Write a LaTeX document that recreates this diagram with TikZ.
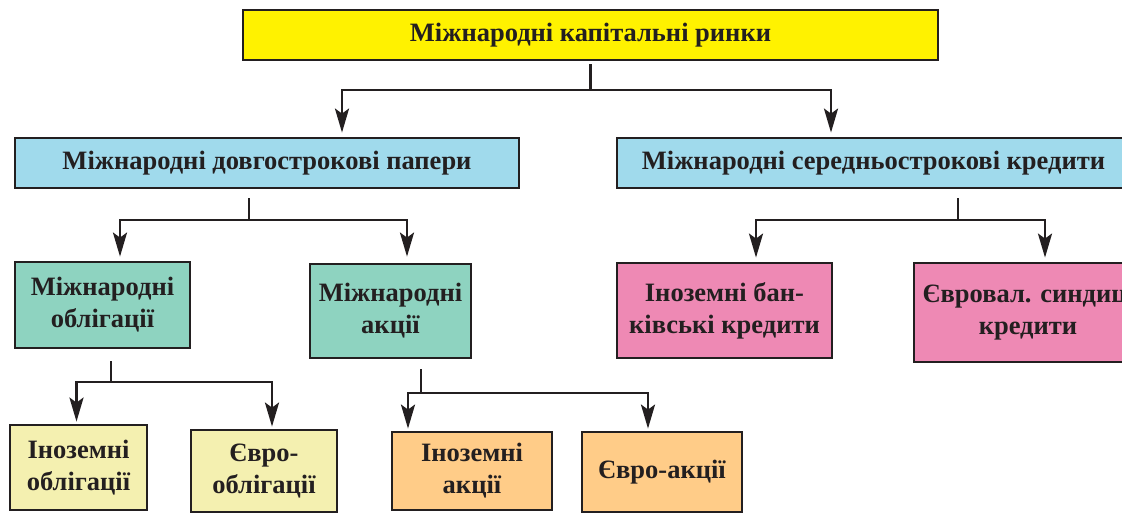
\documentclass[tikz,border=0pt]{standalone}
\usepackage{fontspec}
\setmainfont{Liberation Serif}
\usetikzlibrary{arrows.meta,positioning,calc}
\definecolor{mkInk}{RGB}{35,31,32}
\definecolor{mkYellow}{RGB}{255,242,0}
\definecolor{mkBlue}{RGB}{160,218,236}
\definecolor{mkTeal}{RGB}{142,211,192}
\definecolor{mkPink}{RGB}{238,137,180}
\definecolor{mkCream}{RGB}{244,240,176}
\definecolor{mkOrange}{RGB}{255,204,136}

\begin{document}
\begin{tikzpicture}[x=1pt,y=-1pt,
  box/.style={draw=mkInk, line width=2.8pt, text=mkInk, align=center, inner sep=0pt,
    font=\fontsize{26.5}{32}\selectfont\bfseries},
  link/.style={draw=mkInk, line width=2.8pt},
  arr/.style={link, -{Stealth[length=24pt,width=14pt,inset=5pt]}}]
\useasboundingbox (0,0) rectangle (1122,514);
\clip (0,0) rectangle (1122,514);

% boxes
\node[box, fill=mkYellow, minimum width=695pt, minimum height=50pt] (mkr) at (590.5,35) {Міжнародні капітальні ринки};
\node[box, fill=mkBlue, minimum width=504pt, minimum height=50pt] (dovg) at (267,163) {Міжнародні довгострокові папери};
\node[box, fill=mkBlue, minimum width=513pt, minimum height=50pt] (sered) at (873.5,163) {Міжнародні середньострокові кредити};
\node[box, fill=mkTeal, minimum width=175pt, minimum height=86pt] (obl) at (102.5,305) {Міжнародні\\облігації};
\node[box, fill=mkTeal, minimum width=161pt, minimum height=94pt] (akc) at (390.5,311) {Міжнародні\\акції};
\node[box, fill=mkPink, minimum width=215pt, minimum height=95pt] (bank) at (724.5,310.5) {Іноземні бан-\\ківські кредити};
\node[box, fill=mkPink, minimum width=228pt, minimum height=99pt] (synd) at (1028,312.5) {Євровал. синдиц.\\кредити};
\node[box, fill=mkCream, minimum width=137pt, minimum height=85pt] (inobl) at (78.5,467.5) {Іноземні\\облігації};
\node[box, fill=mkCream, minimum width=146pt, minimum height=82pt] (evobl) at (264,471) {Євро-\\облігації};
\node[box, fill=mkOrange, minimum width=160pt, minimum height=78pt] (inakc) at (472,471) {Іноземні\\акції};
\node[box, fill=mkOrange, minimum width=160pt, minimum height=80pt] (evakc) at (662,472) {Євро-акції};

% branch points
\coordinate (j1) at (590.5,90);
\coordinate (j2) at (249,220);
\coordinate (j3) at (958,220);
\coordinate (j4) at (111,382);
\coordinate (j5) at (421,393);

\draw[link] ([yshift=-3pt]mkr.south) -- (j1);
\draw[arr] (j1) -| ([xshift=75pt,yshift=4pt]dovg.north);
\draw[arr] (j1) -| ([xshift=-42.5pt,yshift=4pt]sered.north);

\draw[link] ([xshift=-18pt,yshift=-9pt]dovg.south) -- (j2);
\draw[arr] (j2) -| ([xshift=17.5pt,yshift=4pt]obl.north);
\draw[arr] (j2) -| ([xshift=16.5pt,yshift=6pt]akc.north);

\draw[link] ([xshift=84.5pt,yshift=-9pt]sered.south) -- (j3);
\draw[arr] (j3) -| ([xshift=31.5pt,yshift=4pt]bank.north);
\draw[arr] (j3) -| ([xshift=17pt,yshift=4pt]synd.north);

\draw[link] ([xshift=8.5pt,yshift=-12pt]obl.south) -- (j4);
\draw[arr] (j4) -| ([xshift=-2pt,yshift=2pt]inobl.north);
\draw[arr] (j4) -| ([xshift=8pt,yshift=2pt]evobl.north);

\draw[link] ([xshift=30.5pt,yshift=-10pt]akc.south) -- (j5);
\draw[arr] (j5) -| ([xshift=-64pt,yshift=2pt]inakc.north);
\draw[arr] (j5) -| ([xshift=-14pt,yshift=2pt]evakc.north);
\end{tikzpicture}
\end{document}
